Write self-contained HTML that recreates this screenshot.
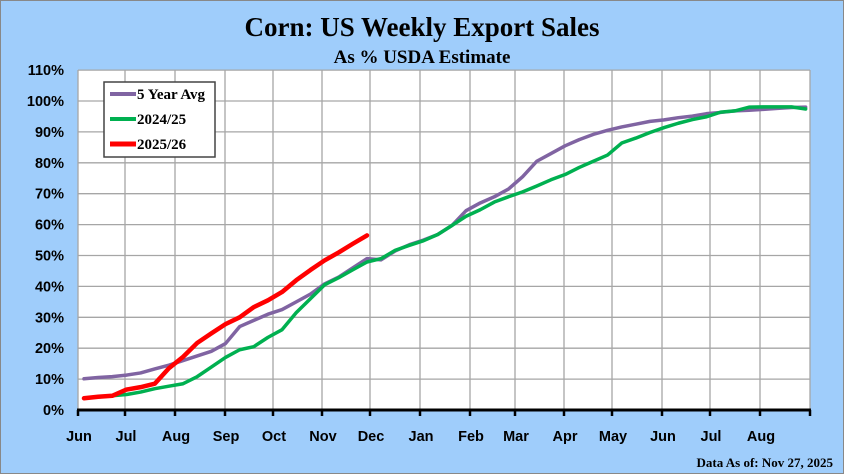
<!DOCTYPE html>
<html><head><meta charset="utf-8"><style>
body{margin:0;width:844px;height:474px;overflow:hidden;background:#9dcbfa;}
svg{display:block}
</style></head><body>
<svg width="844" height="474" xmlns="http://www.w3.org/2000/svg">
<rect x="0.5" y="0.5" width="843" height="473" fill="#9fcdfb" stroke="#888"/>
<text x="422" y="36" text-anchor="middle" font-family="Liberation Serif, serif" font-weight="bold" font-size="27">Corn: US Weekly Export Sales</text>
<text x="422" y="63" text-anchor="middle" font-family="Liberation Serif, serif" font-weight="bold" font-size="19">As % USDA Estimate</text>
<rect x="78" y="70" width="732" height="340" fill="#fff"/>
<g id="grid"></g><g id="series"></g><g id="axes"></g>
<g>
<rect x="104" y="82" width="111" height="75" fill="#fff" stroke="#444" stroke-width="1.5"/>
<line x1="110" y1="94" x2="136" y2="94" stroke="#8064a2" stroke-width="4"/>
<text x="137" y="99" font-family="Liberation Serif, serif" font-weight="bold" font-size="15">5 Year Avg</text>
<line x1="110" y1="119" x2="136" y2="119" stroke="#00b050" stroke-width="4"/>
<text x="137" y="124" font-family="Liberation Serif, serif" font-weight="bold" font-size="15">2024/25</text>
<line x1="110" y1="144" x2="136" y2="144" stroke="#ff0000" stroke-width="5"/>
<text x="137" y="149" font-family="Liberation Serif, serif" font-weight="bold" font-size="15">2025/26</text>
</g>
<text x="833" y="467" text-anchor="end" font-family="Liberation Serif, serif" font-weight="bold" font-size="13">Data As of: Nov 27, 2025</text>
</svg>
<script>
const months=["Jun","Jul","Aug","Sep","Oct","Nov","Dec","Jan","Feb","Mar","Apr","May","Jun","Jul","Aug"];
const monthX=[78,125,175,225,273,322,370,420,470,515,564,612,662,710,760,810];
const yTicks=[0,10,20,30,40,50,60,70,80,90,100,110];
const avg5=[10.1,10.5,10.8,11.3,12.0,13.3,14.5,16,17.5,19,21.5,27,29,31,32.5,35,37.5,40.8,43,46,49,48.6,51.5,53.5,55,56.8,59.7,64.5,67,69,71.5,75.5,80.5,83,85.5,87.5,89.2,90.5,91.6,92.5,93.4,93.9,94.6,95.1,95.9,96.3,96.8,97.0,97.3,97.6,97.9,98.0];
const y2024=[3.9,4.2,4.6,5.0,5.8,6.9,7.7,8.5,10.8,13.9,17,19.5,20.5,23.5,26,31.5,36,40.5,42.8,45.4,47.9,49,51.7,53.3,54.8,56.8,59.7,62.7,64.8,67.3,69,70.6,72.5,74.5,76.2,78.5,80.5,82.5,86.4,88,89.8,91.4,92.8,94,94.9,96.4,96.8,98,98.1,98.1,98.1,97.4];
const y2025=[3.8,4.3,4.6,6.6,7.4,8.5,13.5,17.2,21.7,24.8,27.8,30,33.3,35.5,38.2,42,45.3,48.4,51,53.8,56.5];
const NS="http://www.w3.org/2000/svg";
const X=w=>84+w*14.15, Y=v=>410-v*3.09;
function mk(t,a,p){const e=document.createElementNS(NS,t);for(const k in a)e.setAttribute(k,a[k]);p.appendChild(e);return e;}
const g=document.getElementById('grid'),s=document.getElementById('series'),ax=document.getElementById('axes');
yTicks.forEach(v=>{
 const l=mk('line',{x1:78,x2:810,y1:Y(v),y2:Y(v),stroke:'#a6a6a6','stroke-width':1.3},g);
 
 
 const t=mk('text',{x:64,y:Y(v)+5,'text-anchor':'end','font-family':'Liberation Sans, sans-serif','font-weight':'bold','font-size':14.5},ax);
 t.textContent=v+'%';
 
 
});
monthX.forEach((x,i)=>{
 const l=mk('line',{x1:x,x2:x,y1:70,y2:410,stroke:'#a6a6a6','stroke-width':1.3},g);
 
 
 const tk=mk('line',{x1:x,x2:x,y1:410,y2:416,stroke:'#000','stroke-width':2.5},ax);
 
 
 if(i<months.length){
  const t=mk('text',{x:x+1,y:441,'text-anchor':'middle','font-family':'Liberation Sans, sans-serif','font-weight':'bold','font-size':14.5},ax);
  t.textContent=months[i];
  
  
 }
});
const axl=mk('line',{x1:77,x2:811,y1:410,y2:410,stroke:'#000','stroke-width':3},ax);


function line(d,c,w,n){
 const p=mk('polyline',{points:d.map((v,i)=>X(i)+','+Y(v)).join(' '),fill:'none',stroke:c,'stroke-width':w,'stroke-linejoin':'round','stroke-linecap':'round'},s);
 
 
}
line(avg5,'#8064a2',3.5,'series-5-year-avg');
line(y2024,'#00b050',3.5,'series-2024-25');
line(y2025,'#ff0000',4.5,'series-2025-26');
</script>
</body></html>
